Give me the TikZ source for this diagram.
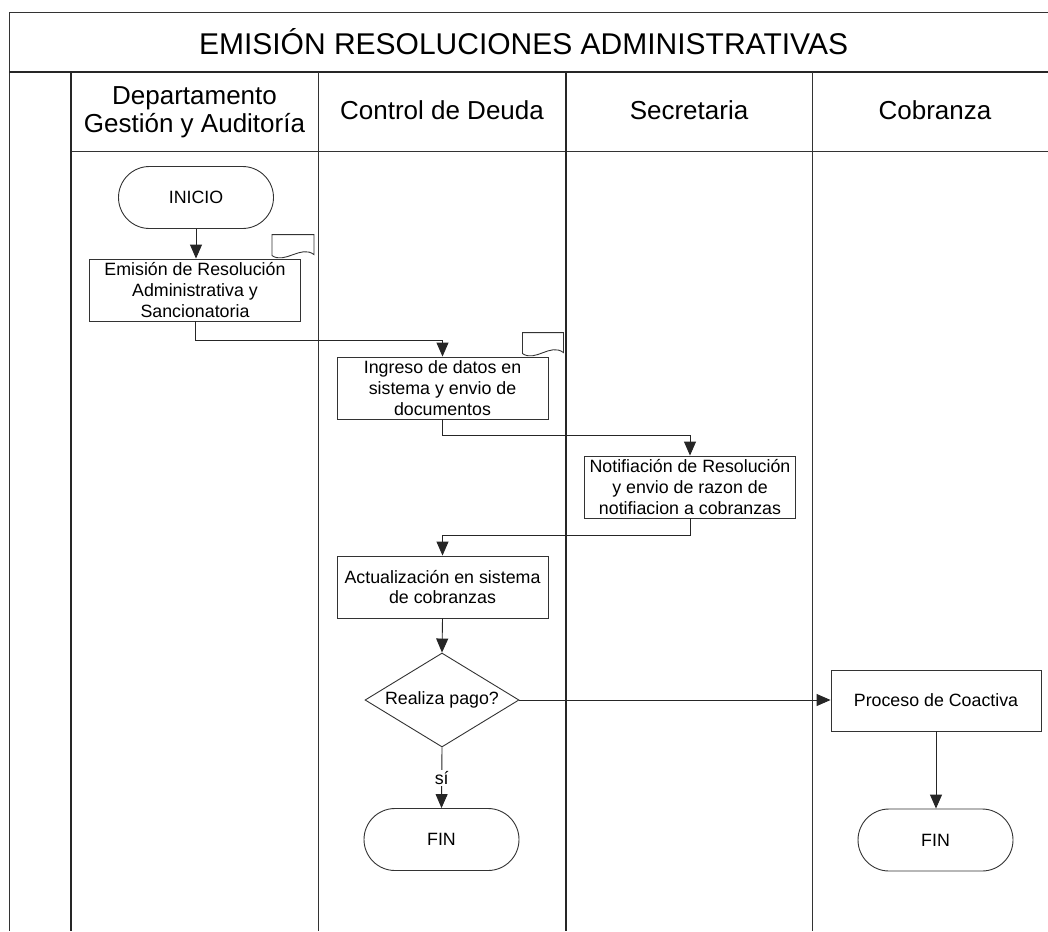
\documentclass[tikz,border=0pt]{standalone}
\usepackage{fontspec}
\setmainfont{Liberation Sans}
\usetikzlibrary{arrows.meta,shapes.geometric,shapes.misc}
\begin{document}
\begin{tikzpicture}[x=1pt,y=-1pt,
  frame/.style={line width=1.1pt,black!80},
  framebold/.style={line width=1.7pt,black!85},
  txtsmall/.style={font=\fontsize{17.8}{20.8}\selectfont},
  procbox/.style={draw=black!80,line width=0.9pt,fill=white,txtsmall,align=center,
    inner sep=0pt,minimum width=211pt,minimum height=62pt},
  term/.style={draw=black!80,line width=0.9pt,rounded rectangle,fill=white,txtsmall,
    inner sep=0pt,minimum width=155pt,minimum height=62pt},
  decision/.style={draw=black!80,line width=0.9pt,diamond,fill=white,txtsmall,
    inner sep=0pt,minimum width=154pt,minimum height=94pt,aspect=1.64},
  docmark/.style={draw=black!80,line width=0.9pt,fill=white},
  flow/.style={draw=black!85,line width=0.9pt,-{Triangle[length=14pt,width=12pt]}},
  hdr/.style={font=\fontsize{26}{28}\selectfont,align=center},
]
\useasboundingbox (0,0) rectangle (1048,931);

% frame and swimlanes
\draw[frame] (1048,12.3) -- (9.3,12.3) -- (9.3,931);
\draw[framebold] (9.3,72.3) -- (1048,72.3);
\draw[frame] (71,151.5) -- (1048,151.5);
\draw[framebold] (71,72.3) -- (71,931);
\draw[frame] (318.5,72.3) -- (318.5,931);
\draw[framebold] (565.7,72.3) -- (565.7,931);
\draw[frame] (812.7,72.3) -- (812.7,931);

% titles
\node[font=\fontsize{30}{36}\selectfont] (title) at (523.5,42) {EMISIÓN RESOLUCIONES ADMINISTRATIVAS};
\node[hdr] (h1) at (194.5,112) {Departamento\\Gestión y Auditoría};
\node[hdr] (h2) at (442,110) {Control de Deuda};
\node[hdr] (h3) at (689,110) {Secretaria};
\node[hdr] (h4) at (935,110) {Cobranza};

% flow nodes
\node[term] (inicio) at (196,197.5) {INICIO};
\node[procbox] (b1) at (195,290) {Emisión de Resolución\\Administrativa y\\Sancionatoria};
\node[procbox] (b2) at (442.5,388) {Ingreso de datos en\\sistema y envio de\\documentos};
\node[procbox] (b3) at (690,487) {Notifiación de Resolución\\y envio de razon de\\notifiacion a cobranzas};
\node[procbox] (b4) at (442.5,587) {Actualización en sistema\\de cobranzas};
\node[decision] (dec) at (442,700) {Realiza pago?};
\node[procbox,minimum width=210pt,minimum height=61pt] (b5) at (936,700.5) {Proceso de Coactiva};
\node[term] (fin1) at (441.5,839.5) {FIN};
\node[term] (fin2) at (935.5,840) {FIN};

% document marks on the record boxes
\draw[docmark,shift={(b1.north east)}] (-29,-24) -- (13,-24) -- (13,-4)
  .. controls (0,-14) and (-16,6) .. (-29,-3) -- cycle;
\draw[docmark,shift={(b2.north east)}] (-26,-24) -- (15,-24) -- (15,-4)
  .. controls (2,-14) and (-13,6) .. (-26,-3) -- cycle;

% connectors
\draw[flow] (inicio.south) -- (inicio.south |- b1.north);
\draw[flow] (b1.south) -- ++(0,19) -| (b2.north);
\draw[flow] (b2.south) -- ++(0,16) -| (b3.north);
\draw[flow] (b3.south) -- ++(0,17) -| (b4.north);
\draw[flow] (b4.south) -- (dec.north);
\draw[flow] (dec.east) -- (dec.east -| b5.west);
\draw[flow] (dec.south) -- node[fill=white,txtsmall,inner sep=1.5pt] (si) {sí} (fin1.north);
\draw[flow] (b5.south) -- (b5.south |- fin2.north);
\end{tikzpicture}
\end{document}
